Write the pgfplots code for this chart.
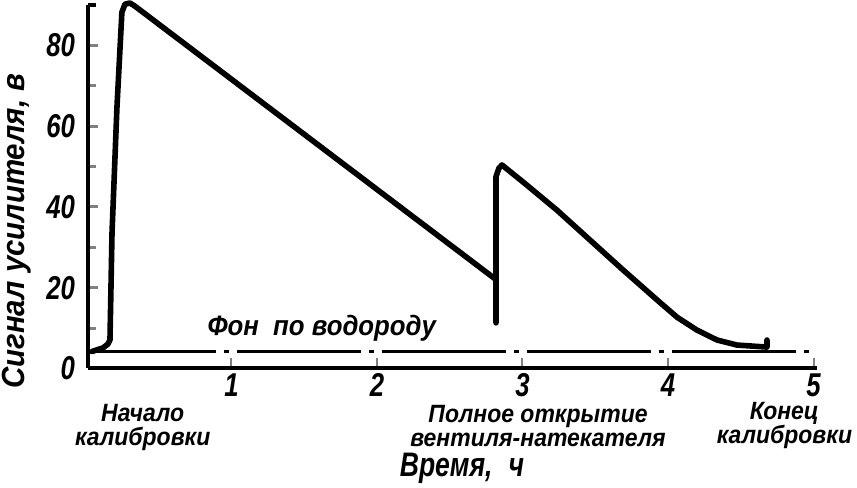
\documentclass[border=0pt]{standalone}
\usepackage{pgfplots}
\pgfplotsset{compat=1.18}
\usetikzlibrary{calc}
\usepackage{fontspec}
\setmainfont{Liberation Sans}
\newfontfamily\tf{Liberation Sans}[FakeStretch=0.78]
\newfontfamily\af{Liberation Sans}[FakeStretch=0.92]
\begin{document}
\begin{tikzpicture}
\begin{axis}[
  name=ax,
  scale only axis,
  width=364.5pt, height=181.75pt,
  xmin=0.014, xmax=5.024, ymin=0, ymax=90,
  clip=false,
  axis x line=bottom, axis y line=left,
  axis line style={-, line width=2pt},
  tick align=inside,
  xtick={1,2,3,4,5},
  ytick={0,20,40,60,80},
  minor y tick num=1,
  major tick length=5pt, minor tick length=4pt,
  x tick style={line width=1pt},
  y tick style={line width=1.5pt},
  /pgf/number format/assume math mode=true,
  ticklabel style={font=\tf\itshape\bfseries\fontsize{16.5}{16.5}\selectfont},
  yticklabel style={xshift=-3pt},
  xticklabel style={yshift=1pt},
]
% background (hydrogen) line
\addplot[line width=1.5pt, dash pattern=on 62pt off 4pt on 2.5pt off 4pt]
  coordinates {(0.041,4.2) (5.0,4.2)};
% signal curve
\addplot[line width=2.8pt, line join=round, line cap=round] coordinates {
  (0.041,4.2) (0.117,5.1) (0.150,6.0) (0.165,7.05) (0.179,33.5) (0.213,64.7)
  (0.247,88.2) (0.268,90.2) (0.302,90.5) (0.337,89.7)
  (2.804,22.4) (2.818,22.0) (2.818,11.3) (2.818,47.5) (2.838,49.6) (2.859,50.4)
  (2.886,49.6) (3.003,46.2) (3.237,39.2) (3.464,31.8) (3.691,24.4)
  (3.924,17.0) (4.062,12.7) (4.199,9.5) (4.337,7.05) (4.474,5.8) (4.680,5.3)
  (4.680,7.05)
};
\draw[line width=2pt] (axis cs:0.014,90) -- ++(5pt,0);
\node[font=\af\itshape\bfseries\fontsize{14}{14}\selectfont] at (axis cs:1.62,10.0) {Фон\ \ по водороду};
\node[font=\af\itshape\bfseries\fontsize{12.5}{12}\selectfont, align=center] at (axis cs:0.39,-14.7) {Начало\\калибровки};
\node[font=\af\itshape\bfseries\fontsize{12.5}{12}\selectfont, align=center] at (axis cs:3.107,-14.2) {Полное открытие\\вентиля-натекателя};
\node[font=\af\itshape\bfseries\fontsize{12.5}{12}\selectfont, align=center] at (axis cs:4.80,-14.2) {Конец\\калибровки};
\node[font=\tf\itshape\bfseries\fontsize{17}{17}\selectfont] at (axis cs:2.584,-24.6) {Время,\hspace{8pt}ч};
\node[font=\af\itshape\bfseries\fontsize{16}{16}\selectfont, rotate=90] at (axis cs:-0.474,34) {Сигнал усилителя, в};
\end{axis}
\pgfresetboundingbox
\path (ax.south west) ++(-44pt,-59.75pt) rectangle ($(ax.north east)+(20pt,2.5pt)$);
\end{tikzpicture}
\end{document}
